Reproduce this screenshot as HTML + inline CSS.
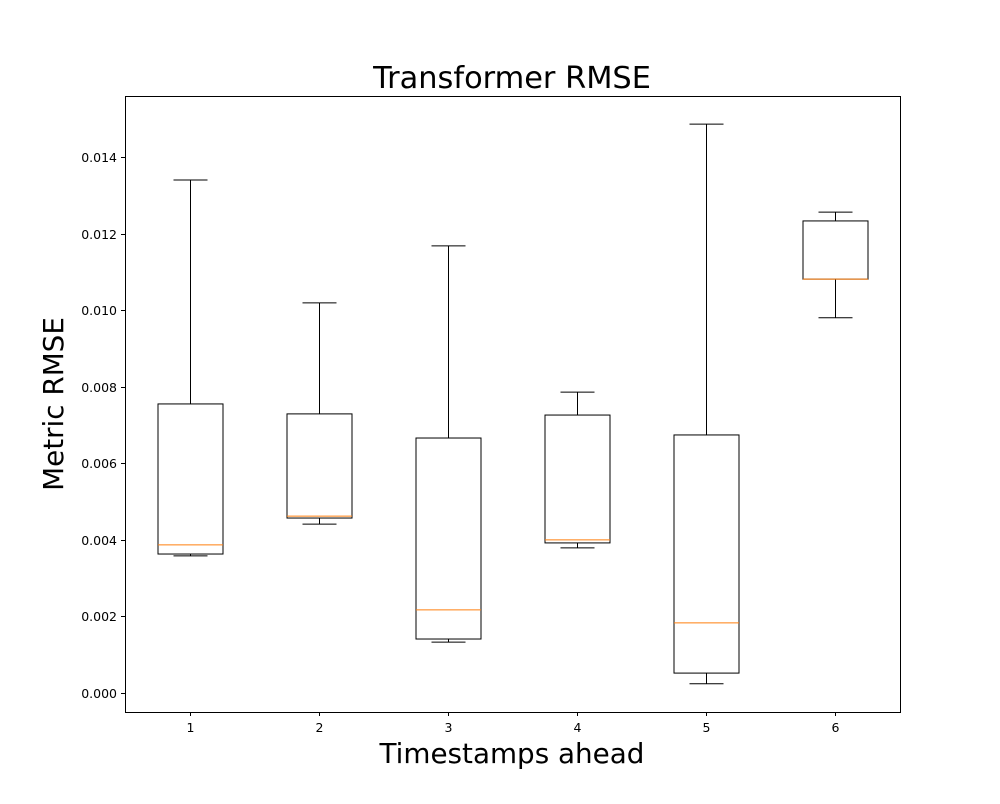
<!DOCTYPE html>
<html><head><meta charset="utf-8"><style>
body{margin:0;background:#fff;font-family:"DejaVu Sans","Liberation Sans",sans-serif;}
</style></head><body>
<svg id="chart" width="1000" height="800" xmlns="http://www.w3.org/2000/svg" font-family="DejaVu Sans, Liberation Sans, sans-serif">
<rect x="0" y="0" width="1000" height="800" fill="#fff"/>
<text x="512" y="88" font-size="30.4" text-anchor="middle" fill="#000">Transformer RMSE</text>
<text x="512" y="763" font-size="27.8" text-anchor="middle" fill="#000">Timestamps ahead</text>
<text transform="translate(63,404) rotate(-90)" font-size="27.8" text-anchor="middle" fill="#000">Metric RMSE</text>
<g id="plot"></g>
<rect x="125.5" y="96.5" width="775" height="616" fill="none" stroke="#000" stroke-width="1"/>
</svg>
<script>
const categories = ["1","2","3","4","5","6"];
const whiskerLow = [0.00358,0.00441,0.00133,0.00379,0.00024,0.0098];
const q1 = [0.00363,0.00457,0.00141,0.00392,0.00052,0.01081];
const medians = [0.00387,0.00462,0.00217,0.0040,0.00183,0.01081];
const q3 = [0.00755,0.00729,0.00666,0.00726,0.00674,0.01233];
const whiskerHigh = [0.0134,0.01019,0.01168,0.00786,0.01486,0.01256];
const yTicks = [0,0.002,0.004,0.006,0.008,0.010,0.012,0.014];
const yTickLabels = ["0.000","0.002","0.004","0.006","0.008","0.010","0.012","0.014"];

const NS="http://www.w3.org/2000/svg";
const g=document.getElementById('plot');
function y(v){return 693-v*536/0.014;}
function x(i){return 190+i*129;}
function mk(t,a){const e=document.createElementNS(NS,t);for(const k in a)e.setAttribute(k,a[k]);g.appendChild(e);return e;}
yTicks.forEach((v,i)=>{
  const yy=Math.round(y(v))+0.5;
  const l=mk('line',{x1:121,x2:125,y1:yy,y2:yy,stroke:'#000'});
  
  
  const t=mk('text',{x:117,y:yy+4.5,'font-size':12.5,'text-anchor':'end',fill:'#000'});
  t.textContent=yTickLabels[i];
  
  
});
categories.forEach((c,i)=>{
  const cx=x(i)+0.5;
  const l=mk('line',{x1:cx,x2:cx,y1:712,y2:716,stroke:'#000'});
  
  
  const t=mk('text',{x:cx,y:732,'font-size':12.5,'text-anchor':'middle',fill:'#000'});
  t.textContent=c;
  
  
  const hw=32.5, cw=17;
  const w1=mk('line',{x1:cx,x2:cx,y1:y(whiskerHigh[i]),y2:y(q3[i]),stroke:'#000'});
  
  
  const w2=mk('line',{x1:cx,x2:cx,y1:y(q1[i]),y2:y(whiskerLow[i]),stroke:'#000'});
  
  
  const c1=mk('line',{x1:cx-cw,x2:cx+cw,y1:y(whiskerHigh[i]),y2:y(whiskerHigh[i]),stroke:'#000'});
  
  
  const c2=mk('line',{x1:cx-cw,x2:cx+cw,y1:y(whiskerLow[i]),y2:y(whiskerLow[i]),stroke:'#000'});
  
  
  const b=mk('rect',{x:cx-hw,y:y(q3[i]),width:hw*2,height:y(q1[i])-y(q3[i]),fill:'none',stroke:'#000'});
  
  
  const m=mk('line',{x1:cx-hw,x2:cx+hw,y1:y(medians[i]),y2:y(medians[i]),stroke:'#ff7f0e'});
  
  
});
</script>
</body></html>
